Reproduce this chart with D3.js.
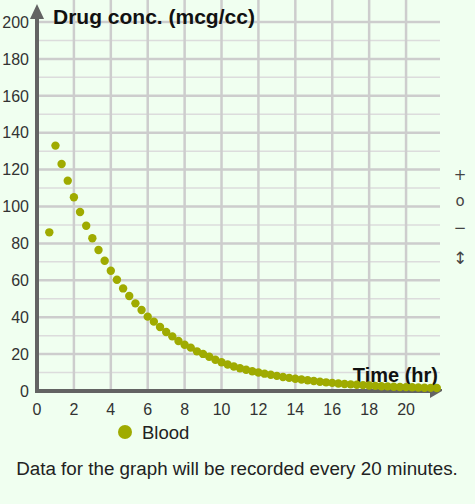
<!DOCTYPE html>
<html><head><meta charset="utf-8">
<script src="https://cdn.jsdelivr.net/npm/d3@7"></script>
<style>
html,body{margin:0;padding:0;background:#f0fff0;}
svg{display:block;font-family:"Liberation Sans",Arial,sans-serif;}
</style></head>
<body>
<svg id="c" width="475" height="504"></svg>
<script>
// Time in hours (every 20 minutes)
const times = [0.667,1,1.333,1.667,2,2.333,2.667,3,3.333,3.667,4,4.333,4.667,5,5.333,5.667,6,6.333,6.667,7,7.333,7.667,8,8.333,8.667,9,9.333,9.667,10,10.333,10.667,11,11.333,11.667,12,12.333,12.667,13,13.333,13.667,14,14.333,14.667,15,15.333,15.667,16,16.333,16.667,17,17.333,17.667,18,18.333,18.667,19,19.333,19.667,20,20.333,20.667,21,21.333,21.667];
// Blood drug concentration (mcg/cc)
const blood = [86,133,123,114,105,97,89.6,82.8,76.4,70.6,65.2,60.3,55.6,51.5,47.5,43.9,40.3,37.6,34.7,32.0,29.6,27.1,25.1,23.5,21.5,20.1,18.6,16.9,15.6,14.4,13.3,12.3,11.5,10.7,10.0,9.4,8.8,8.2,7.6,7.1,6.6,6.2,5.8,5.4,5.0,4.7,4.4,4.1,3.8,3.6,3.4,3.2,3.0,2.8,2.6,2.5,2.3,2.2,2.1,2.0,1.9,1.8,1.7,1.6];
const xTicks = [0,2,4,6,8,10,12,14,16,18,20];
const yTicks = [0,20,40,60,80,100,120,140,160,180,200];
const yMinor = [10,30,50,70,90,110,130,150,170,190];
const yTitle = "Drug conc. (mcg/cc)";
const xTitle = "Time (hr)";
const seriesName = "Blood";
const note = "Data for the graph will be recorded every 20 minutes.";
const icons = ["+","o","\u2212","\u2195"];

const svg = d3.select("#c");
const x0 = 37, x1 = 440, yBase = 391, yTop = 22;
const x = d3.scaleLinear().domain([0, 21.84]).range([x0, x1]);
const y = d3.scaleLinear().domain([0, 200]).range([yBase, yTop]);
const dotColor = "#9fab00";

// grid
const g = svg.append("g");
g.selectAll(".hm").data(yMinor).join("line")
  .attr("x1", x0).attr("x2", x1).attr("y1", d=>y(d)).attr("y2", d=>y(d))
  .attr("stroke", "#dcdcdc").attr("stroke-width", 1.5);
g.selectAll(".hM").data(yTicks.filter(d=>d>0)).join("line")
  .attr("x1", x0).attr("x2", x1).attr("y1", d=>y(d)).attr("y2", d=>y(d))
  .attr("stroke", "#cdcdcd").attr("stroke-width", 2.5);
g.selectAll(".v").data(xTicks.filter(d=>d>0)).join("line")
  .attr("x1", d=>x(d)).attr("x2", d=>x(d)).attr("y1", 0).attr("y2", yBase)
  .attr("stroke", "#cdcdcd").attr("stroke-width", 2.5);

// y tick labels
svg.append("g").selectAll("text").data(yTicks).join("text")
  .attr("x", 29).attr("y", d=>y(d)).attr("dy", "0.36em")
  .attr("text-anchor", "end").attr("font-size", 16).attr("fill", "#333")
  .text(d=>d);
// x tick labels
svg.append("g").selectAll("text").data(xTicks).join("text")
  .attr("x", d=>x(d)).attr("y", 415)
  .attr("text-anchor", "middle").attr("font-size", 16).attr("fill", "#333")
  .text(d=>d);

// axes
const axisColor = "#636363";
svg.append("line").attr("x1", x0).attr("x2", x0).attr("y1", 14).attr("y2", yBase+2)
  .attr("stroke", axisColor).attr("stroke-width", 4);
svg.append("path").attr("d", `M${x0-7},19 L${x0},4 L${x0+7},19 Z`).attr("fill", axisColor);
svg.append("line").attr("x1", x0-2).attr("x2", x1-4).attr("y1", yBase).attr("y2", yBase)
  .attr("stroke", axisColor).attr("stroke-width", 4);
svg.append("path").attr("d", `M${x1-10},${yBase-2} L${x1+2},${yBase-2} L${x1+2},${yBase} L${x1-10},${yBase+7} Z`).attr("fill", axisColor);

// titles
svg.append("text").attr("x", 53).attr("y", 24).attr("font-size", 21).attr("font-weight", "bold")
  .attr("fill", "#111").text(yTitle);
svg.append("text").attr("x", 438).attr("y", 382).attr("text-anchor", "end").attr("font-size", 20)
  .attr("font-weight", "bold").attr("fill", "#111").text(xTitle);

// points
svg.append("g").selectAll("circle").data(times).join("circle")
  .attr("cx", d=>x(d)).attr("cy", (d,i)=>y(blood[i])).attr("r", 4.2)
  .attr("fill", dotColor);

// legend
svg.append("circle").attr("cx", 125).attr("cy", 432).attr("r", 7).attr("fill", dotColor);
svg.append("text").attr("x", 142).attr("y", 439).attr("font-size", 18.5).attr("fill", "#222").text(seriesName);

// note
svg.append("text").attr("x", 237).attr("y", 475).attr("text-anchor", "middle").attr("font-size", 18.8)
  .attr("fill", "#222").text(note);

// side icons
svg.append("g").selectAll("text").data(icons).join("text")
  .attr("x", 460).attr("y", (d,i)=>[175,201,228,258][i]).attr("dy","0.35em")
  .attr("text-anchor", "middle").attr("font-family", "'DejaVu Sans',sans-serif")
  .attr("font-size", (d,i)=> i===3 ? 17 : 15).attr("fill", "#444").text(d=>d);
</script>
</body></html>
